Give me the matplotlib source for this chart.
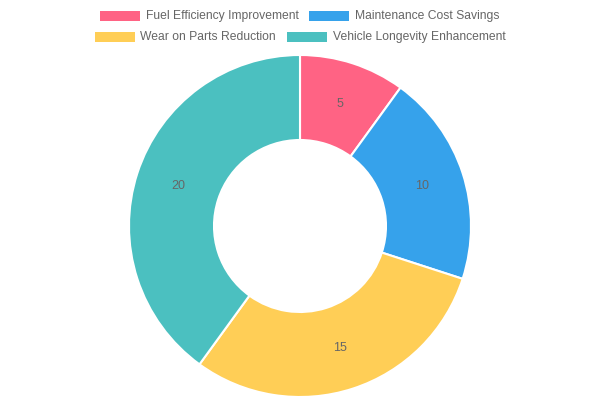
import matplotlib
matplotlib.use("Agg")
import matplotlib.pyplot as plt
from matplotlib.patches import Rectangle

labels = [
    "Fuel Efficiency Improvement",
    "Maintenance Cost Savings",
    "Wear on Parts Reduction",
    "Vehicle Longevity Enhancement",
]
values = [5, 10, 15, 20]
colors = ["#FF6384", "#36A2EB", "#FFCE56", "#4BC0C0"]

plt.rcParams["font.family"] = ["Liberation Sans", "DejaVu Sans"]

fig = plt.figure(figsize=(6, 4), dpi=100)
ax = fig.add_axes([0, 0, 1, 1])

# doughnut, clockwise from top
wedges, texts = ax.pie(
    values,
    colors=colors,
    labels=[str(v) for v in values],
    labeldistance=0.75,
    startangle=90,
    counterclock=False,
    center=(300, 174),
    radius=171,
    frame=True,
    wedgeprops=dict(width=85, edgecolor="white", linewidth=1.5),
    textprops=dict(color="#666666", fontsize=9),
)
for t in texts:
    t.set_ha("center")
    t.set_va("center")
ax.set_xlim(0, 600)
ax.set_ylim(0, 400)
ax.set_aspect("equal")
ax.axis("off")

# legend drawn by hand, two rows like Chart.js
rows = [
    [(100, 146, 0), (309, 355, 1)],
    [(95, 140, 2), (287, 333, 3)],
]
row_y = [16, 37]
for y, row in zip(row_y, rows):
    for bx, tx, i in row:
        ax.add_patch(Rectangle((bx, 400 - y - 5), 40, 10, facecolor=colors[i],
                               edgecolor="none", clip_on=False))
        ax.text(tx, 400 - y, labels[i], color="#666666", fontsize=8.7,
                ha="left", va="center")

fig.savefig("out.png", dpi=100)
